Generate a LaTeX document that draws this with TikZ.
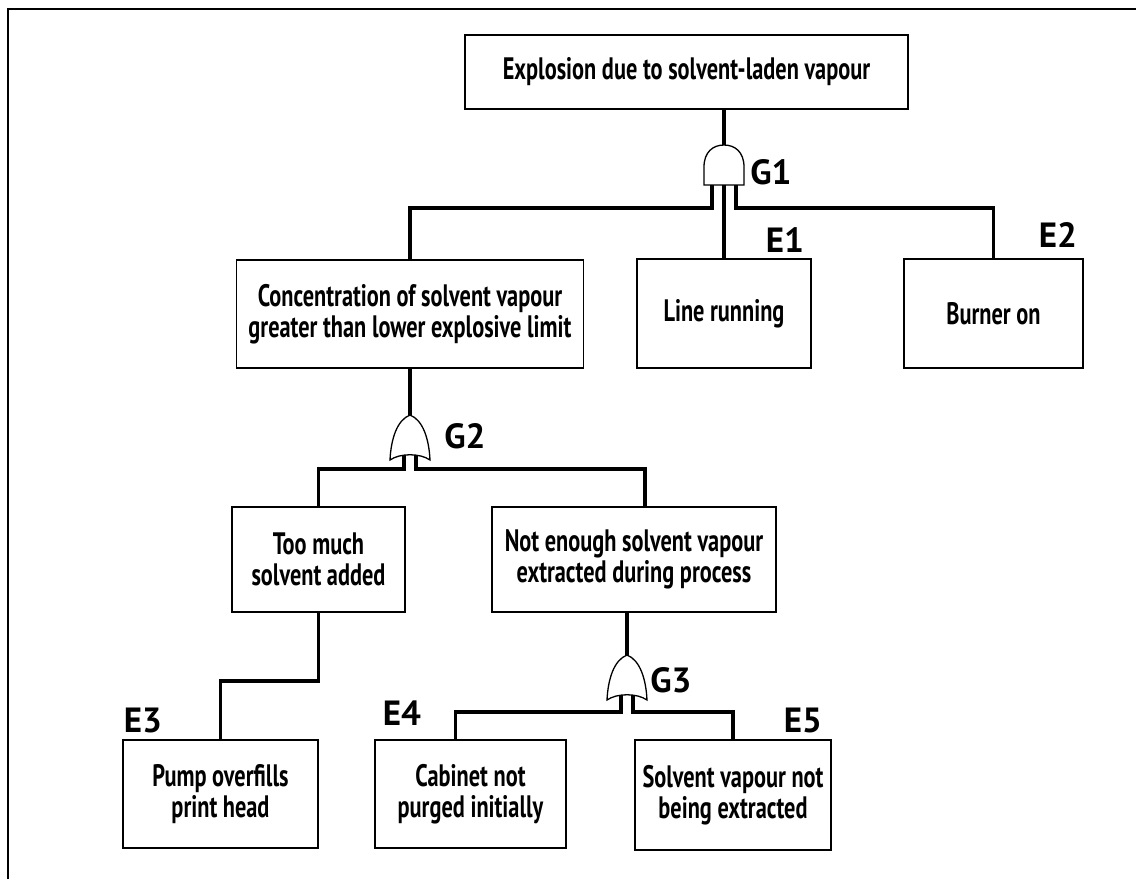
\documentclass[tikz,border=0pt]{standalone}
\usepackage{fontspec}
\newfontfamily\boxfont[FakeStretch=0.72]{PT Sans}
\newfontfamily\tagfont{PT Sans}
\begin{document}
\begin{tikzpicture}[x=1pt,y=-1pt,
  box/.style={draw, line width=1.6pt, inner sep=0pt, align=center,
    font=\boxfont\bfseries\fontsize{31}{31}\selectfont},
  wire/.style={line width=3.5pt},
  gate/.style={draw, line width=1.3pt, fill=white},
  tag/.style={font=\tagfont\bfseries\fontsize{35}{35}\selectfont, inner sep=0pt},
  andgate/.pic={
    \path[gate] (-20,40) -- (-20,22) .. controls (-20,7) and (-11,0) .. (0,0)
      .. controls (11,0) and (20,7) .. (20,22) -- (20,40) -- cycle;
    \coordinate (-in) at (0,0);
    \coordinate (-l) at (-12,40);
    \coordinate (-m) at (0,40);
    \coordinate (-r) at (12,40);
  },
  orgate/.pic={
    \path[gate] (0,0) .. controls (13,5) and (19,24) .. (20,45)
      .. controls (10,38) and (-10,38) .. (-20,45)
      .. controls (-19,24) and (-13,5) .. (0,0) -- cycle;
    \coordinate (-in) at (0,0);
    \coordinate (-l) at (-6,40);
    \coordinate (-r) at (6,40);
  }]
\useasboundingbox (0,0) rectangle (1136,879);

% page frame
\draw[line width=2pt] (8,879) -- (8,9) -- (1136,9);

% events
\node[box, minimum width=443pt, minimum height=74pt, font=\boxfont\bfseries\fontsize{31}{31}\selectfont]
  (top) at (686.5,72) {Explosion due to solvent-laden vapour};
\node[box, minimum width=347pt, minimum height=108pt] (conc) at (410,314)
  {Concentration of solvent vapour\\greater than lower explosive limit};
\node[box, minimum width=174pt, minimum height=109pt] (line) at (724,313.5) {Line running};
\node[box, minimum width=179pt, minimum height=109pt] (burner) at (993.5,313.5) {Burner on};
\node[box, minimum width=173pt, minimum height=105pt] (toomuch) at (318.5,559.5)
  {Too much\\solvent added};
\node[box, minimum width=284pt, minimum height=105pt] (notenough) at (634,559.5)
  {Not enough solvent vapour\\extracted during process};
\node[box, minimum width=195pt, minimum height=108pt] (pump) at (220.5,794)
  {Pump overfills\\print head};
\node[box, minimum width=191pt, minimum height=108pt] (cabinet) at (470.5,794)
  {Cabinet not\\purged initially};
\node[box, minimum width=196pt, minimum height=110pt] (solvent) at (733,795)
  {Solvent vapour not\\being extracted};

% gates
\pic (g1) at (724,145) {andgate};
\pic (g2) at (410,415) {orgate};
\pic (g3) at (627,655) {orgate};

% connectors
\draw[wire] (top.south -| g1-in) -- (g1-in);
\draw[wire] (g1-l) -- ++(0,23) -| (conc.north);
\draw[wire] (g1-m) -- (line.north);
\draw[wire] (g1-r) -- ++(0,23) -| (burner.north);
\draw[wire] (conc.south -| g2-in) -- (g2-in);
\draw[wire] (g2-l) -- ++(0,14) -| (toomuch.north);
\draw[wire] (g2-r) -- ++(0,14) -| ([xshift=11pt]notenough.north);
\draw[wire] (toomuch.south) -- ++(0,68) -| (pump.north);
\draw[wire] (notenough.south -| g3-in) -- (g3-in);
\draw[wire] (g3-l) -- ++(0,17) -| ([xshift=-15pt]cabinet.north);
\draw[wire] (g3-r) -- ++(0,17) -| (solvent.north);

% gate and event labels
\node[tag] (tg1) at (771,172) {G1};
\node[tag] (tg2) at (465,436) {G2};
\node[tag] (tg3) at (671,680) {G3};
\node[tag] (te1) at (785,240) {E1};
\node[tag] (te2) at (1058,235) {E2};
\node[tag] (te3) at (143,720) {E3};
\node[tag] (te4) at (402,713) {E4};
\node[tag] (te5) at (803,720) {E5};
\end{tikzpicture}
\end{document}
